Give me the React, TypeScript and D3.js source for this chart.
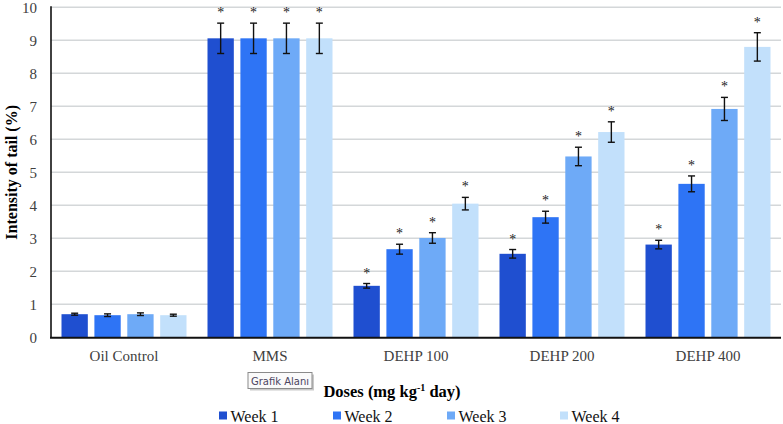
import React from "react";
import * as d3 from "d3";

const categories = ["Oil Control", "MMS", "DEHP 100", "DEHP 200", "DEHP 400"];
const seriesNames = ["Week 1", "Week 2", "Week 3", "Week 4"];
const week1 = [0.70, 9.06, 1.56, 2.53, 2.81];
const week2 = [0.67, 9.06, 2.67, 3.64, 4.65];
const week3 = [0.70, 9.06, 3.01, 5.48, 6.92];
const week4 = [0.67, 9.06, 4.05, 6.22, 8.80];
const err1 = [0.03, 0.46, 0.07, 0.13, 0.13];
const err2 = [0.04, 0.46, 0.15, 0.18, 0.24];
const err3 = [0.04, 0.46, 0.16, 0.28, 0.35];
const err4 = [0.03, 0.46, 0.19, 0.31, 0.43];
const star1 = [false, true, true, true, true];
const star2 = [false, true, true, true, true];
const star3 = [false, true, true, true, true];
const star4 = [false, true, true, true, true];
const yTicks = [0, 1, 2, 3, 4, 5, 6, 7, 8, 9, 10];
const colors = ["#1f4fd0", "#2e74f5", "#6eaaf7", "#c2e0fb"];

const values = [week1, week2, week3, week4];
const errors = [err1, err2, err3, err4];
const stars = [star1, star2, star3, star4];

export default function App() {
  const W = 783, H = 424;
  const left = 51, right = 781, top = 7.3, bottom = 337.3;
  const x0 = d3.scaleBand<string>().domain(categories).range([left, right]).padding(0);
  const x1 = d3.scaleBand<string>().domain(seriesNames).range([10.5, 135.5]).paddingInner(0.2);
  const y = d3.scaleLinear().domain([0, 10]).range([bottom, top]);
  const serif = "'Liberation Serif', 'Times New Roman', serif";
  const legendX = [219, 333, 447, 560];

  return (
    <svg width={W} height={H} style={{ position: "absolute", left: 0, top: 0, background: "#fff" }}>
      <rect width={W} height={H} fill="#fff" />
      {yTicks.map((t) => (
        <g key={t}>
          {t > 0 && <line x1={left} x2={right} y1={y(t)} y2={y(t)} stroke="#d4d7d9" strokeWidth={1.5} />}
          <text x={37} y={y(t)} dy="0.35em" textAnchor="end" fontFamily={serif} fontSize={15} fill="#404040">{t}</text>
        </g>
      ))}
      {categories.map((c, ci) => (
        <g key={c} transform={`translate(${x0(c)},0)`}>
          {seriesNames.map((s, si) => {
            const v = values[si][ci];
            const e = errors[si][ci];
            const bx = x1(s)!;
            const bw = x1.bandwidth();
            const cx = bx + bw / 2;
            return (
              <g key={s}>
                <rect x={bx} y={y(v)} width={bw} height={y(0) - y(v)} fill={colors[si]} />
                <line x1={cx} x2={cx} y1={y(v + e)} y2={y(v - e)} stroke="#111" strokeWidth={1.4} />
                <line x1={cx - 3.5} x2={cx + 3.5} y1={y(v + e)} y2={y(v + e)} stroke="#111" strokeWidth={1.4} />
                <line x1={cx - 3.5} x2={cx + 3.5} y1={y(v - e)} y2={y(v - e)} stroke="#111" strokeWidth={1.4} />
                {stars[si][ci] && (
                  <text x={cx} y={y(v + e) - 6} textAnchor="middle" fontFamily={serif} fontSize={14} fill="#222">*</text>
                )}
              </g>
            );
          })}
          <text x={x0.bandwidth() / 2} y={361} textAnchor="middle" fontFamily={serif} fontSize={15} fill="#404040">{c}</text>
        </g>
      ))}
      <line x1={left} x2={left} y1={top - 1} y2={bottom} stroke="#111" strokeWidth={1.6} />
      <line x1={left - 1} x2={right} y1={bottom + 0.5} y2={bottom + 0.5} stroke="#111" strokeWidth={2} />
      <text transform={`translate(17,${(top + bottom) / 2}) rotate(-90)`} textAnchor="middle" fontFamily={serif} fontSize={16} fontWeight="bold" fill="#000">Intensity of tail (%)</text>
      <text x={392} y={397} textAnchor="middle" fontFamily={serif} fontSize={16.5} fontWeight="bold" fill="#000">
        Doses (mg kg<tspan fontSize={10} dy={-6}>-1</tspan><tspan dy={6}> day)</tspan>
      </text>
      <g>
        <rect x={250} y={374.5} width={64} height={16} fill="#c9c9c9" />
        <rect x={248} y={372.5} width={64} height={16} fill="#fafafa" stroke="#8a8a8a" strokeWidth={1} />
        <text x={280} y={384.5} textAnchor="middle" fontFamily="'DejaVu Sans', 'Noto Sans', sans-serif" fontSize={10} fill="#4b4460">Grafik Alanı</text>
      </g>
      {seriesNames.map((s, si) => (
        <g key={s}>
          <rect x={legendX[si]} y={411.5} width={8} height={8} fill={colors[si]} />
          <text x={legendX[si] + 11.5} y={421.5} fontFamily={serif} fontSize={16} fill="#111">{s}</text>
        </g>
      ))}
    </svg>
  );
}
